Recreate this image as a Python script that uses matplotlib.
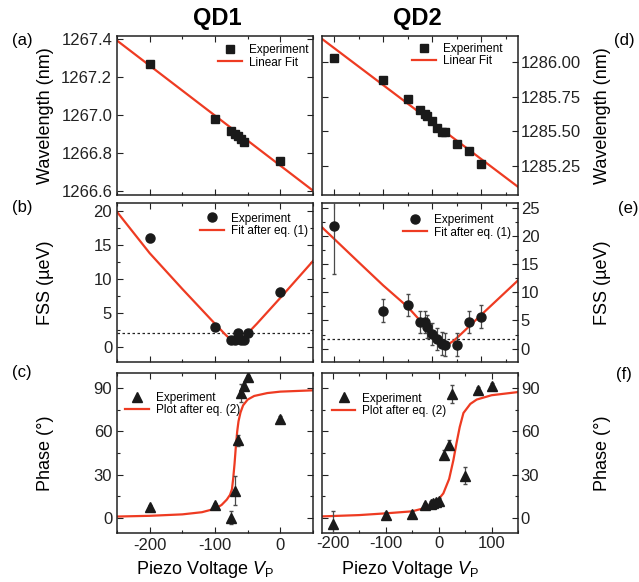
import matplotlib
matplotlib.use("Agg")
import matplotlib.pyplot as plt
from matplotlib.lines import Line2D
from matplotlib.ticker import MultipleLocator, FormatStrFormatter

plt.rcParams['font.family'] = ['Liberation Sans', 'DejaVu Sans']
plt.rcParams['mathtext.fontset'] = 'custom'
plt.rcParams['mathtext.rm'] = 'Liberation Sans'
plt.rcParams['mathtext.it'] = 'Liberation Sans:italic'
plt.rcParams['axes.unicode_minus'] = False

# ---------------- data ----------------
# QD1
qd1_wl_v = [-200, -100, -75, -70, -65, -60, -55, 0]
qd1_wl = [1267.268, 1266.979, 1266.912, 1266.900, 1266.886, 1266.872, 1266.854, 1266.754]
qd1_wlfit_v = [-250, 50]
qd1_wlfit = [1267.39, 1266.60]

qd1_fss_v = [-200, -100, -75, -70, -65, -60, -55, -50, 0]
qd1_fss = [16.0, 3.0, 1.0, 1.0, 2.0, 1.0, 1.0, 2.0, 8.0]
qd1_fss_err = [0.6, 0.3, 0.3, 0.3, 0.3, 0.3, 0.3, 0.3, 0.6]
qd1_fssfit_v = [-250, -200, -150, -100, -85, -78, -74, -71, -68, -65, -62, -58, -51, -36, 0, 50]
qd1_fssfit = [19.8, 13.75, 8.5, 3.4, 1.9, 1.25, 0.95, 0.78, 0.7, 0.78, 0.95, 1.25, 1.9, 3.4, 7.2, 12.6]
qd1_fss_level = 2.0

qd1_ph_v = [-200, -100, -75, -70, -65, -60, -55, -50, 0]
qd1_ph = [7.3, 9.2, 0.0, 18.9, 53.7, 86.5, 91.2, 97.7, 68.6]
qd1_ph_err = [1.5, 1.5, 4.5, 10.0, 4.0, 6.0, 2.0, 1.5, 2.0]
qd1_phfit_v = [-250, -200, -150, -120, -100, -90, -82, -77, -74, -72, -70, -68, -66, -64, -61, -57, -50, -40, -20, 0, 50]
qd1_phfit = [1.0, 1.5, 2.5, 4.0, 6.4, 9.0, 12.7, 16.0, 20.0, 28.0, 38.0, 50.0, 60.0, 67.0, 73.0, 78.0, 82.0, 84.5, 86.5, 87.5, 88.4]

# QD2
qd2_wl_v = [-200, -100, -50, -25, -15, -10, 0, 10, 20, 25, 50, 75, 100]
qd2_wl = [1286.030, 1285.873, 1285.731, 1285.652, 1285.628, 1285.609, 1285.575,
          1285.527, 1285.495, 1285.493, 1285.412, 1285.356, 1285.262]
qd2_wlfit_v = [-225, 175]
qd2_wlfit = [1286.169, 1285.099]

qd2_fss_v = [-200, -100, -50, -25, -15, -10, 0, 10, 20, 25, 50, 75, 100]
qd2_fss = [21.7, 6.75, 7.76, 4.7, 4.7, 3.9, 2.6, 1.7, 0.9, 0.7, 0.7, 4.7, 5.7]
qd2_fss_err = [8.4, 2.0, 2.0, 2.0, 2.0, 2.0, 2.0, 2.0, 2.0, 2.0, 2.0, 2.0, 2.0]
qd2_fssfit_v = [-225, -150, -100, -50, -25, 0, 15, 25, 30, 35, 45, 60, 100, 175]
qd2_fssfit = [21.5, 15.3, 11.2, 7.4, 5.0, 2.5, 1.3, 0.85, 0.8, 0.9, 1.5, 2.7, 6.0, 12.1]
qd2_fss_level = 1.8

qd2_ph_v = [-200, -100, -50, -25, -15, -10, -5, 0, 10, 20, 25, 50, 75, 100]
qd2_ph = [-3.9, 2.3, 3.0, 8.7, 9.9, 10.4, 10.8, 12.0, 43.8, 50.7, 85.8, 29.3, 88.4, 91.6]
qd2_ph_err = [9.0, 2.0, 2.0, 2.0, 2.0, 2.0, 2.0, 2.0, 3.0, 3.0, 6.0, 6.0, 2.0, 2.0]
qd2_phfit_v = [-220, -150, -100, -50, -25, -10, 0, 9, 20, 28, 34, 40, 47, 60, 72, 100, 150]
qd2_phfit = [1.1, 2.0, 3.2, 4.6, 7.0, 10.0, 13.0, 17.0, 27.0, 40.0, 52.0, 63.0, 72.7, 79.0, 82.0, 85.0, 87.2]

# ---------------- style ----------------
RED = '#ee3b22'
BLACK = '#1a1a1a'
ERRC = '#4a4a4a'

fig = plt.figure(figsize=(6.39, 5.82), dpi=100)
W, H = 639.0, 582.0

def add_ax(x0, x1, y0, y1):
    return fig.add_axes([x0 / W, 1 - y1 / H, (x1 - x0) / W, (y1 - y0) / H])

lx0, lx1 = 117, 313
rx0, rx1 = 322, 518
rows = [(36, 195), (203, 362), (373, 533)]

axA = add_ax(lx0, lx1, *rows[0])
axB = add_ax(lx0, lx1, *rows[1])
axC = add_ax(lx0, lx1, *rows[2])
axD = add_ax(rx0, rx1, *rows[0])
axE = add_ax(rx0, rx1, *rows[1])
axF = add_ax(rx0, rx1, *rows[2])

for ax in [axA, axB, axC, axD, axE, axF]:
    ax.tick_params(which='both', direction='in', top=True, right=True, left=True, bottom=True,
                   labelsize=12, width=0.8, colors='#222222')
    ax.tick_params(which='major', length=4)
    ax.tick_params(which='minor', length=2.5)
    for s in ax.spines.values():
        s.set_linewidth(1.1)
        s.set_color('#222222')
    ax.xaxis.set_major_locator(MultipleLocator(100))
    ax.xaxis.set_minor_locator(MultipleLocator(50))

for ax in [axA, axB, axC]:
    ax.set_xlim(-250, 50)
for ax in [axD, axE]:
    ax.set_xlim(-225, 175)
axF.set_xlim(-220, 150)

for ax in [axA, axB, axD, axE]:
    ax.tick_params(labelbottom=False)
for ax in [axD, axE, axF]:
    ax.tick_params(labelleft=False, labelright=True, pad=2)
    ax.yaxis.set_label_position('right')

leg_kw = dict(frameon=False, fontsize=8.5, handlelength=2.0, handletextpad=0.6,
              labelspacing=0.05, numpoints=1, loc='upper left', borderpad=0,
              borderaxespad=0)

def legend(ax, x, y, marker, ms, fitlabel):
    h = [Line2D([], [], ls='none', marker=marker, color=BLACK, ms=ms),
         Line2D([], [], color=RED, lw=1.6)]
    ax.legend(h, ['Experiment', fitlabel], bbox_to_anchor=(x, y), **leg_kw)

# (a) QD1 wavelength
axA.plot(qd1_wlfit_v, qd1_wlfit, color=RED, lw=1.6, zorder=2)
axA.plot(qd1_wl_v, qd1_wl, 's', color=BLACK, ms=5.5, zorder=3)
axA.set_ylim(1266.577, 1267.414)
axA.yaxis.set_major_locator(MultipleLocator(0.2))
axA.yaxis.set_major_formatter(FormatStrFormatter('%.1f'))
axA.set_ylabel('Wavelength (nm)', fontsize=13)
legend(axA, 0.515, 0.95, 's', 5.5, 'Linear Fit')

# (d) QD2 wavelength
axD.plot(qd2_wlfit_v, qd2_wlfit, color=RED, lw=1.6, zorder=2)
axD.plot(qd2_wl_v, qd2_wl, 's', color=BLACK, ms=5.5, zorder=3)
axD.set_ylim(1285.04, 1286.19)
axD.yaxis.set_major_locator(MultipleLocator(0.25))
axD.yaxis.set_major_formatter(FormatStrFormatter('%.2f'))
axD.set_ylabel('Wavelength (nm)', fontsize=13)
legend(axD, 0.459, 0.957, 's', 5.5, 'Linear Fit')

# (b) QD1 FSS
axB.axhline(qd1_fss_level, color='#222222', ls=(0, (2, 2)), lw=0.9, zorder=1)
axB.plot(qd1_fssfit_v, qd1_fssfit, color=RED, lw=1.6, zorder=2)
axB.errorbar(qd1_fss_v, qd1_fss, yerr=qd1_fss_err, fmt='o', color=BLACK, ms=6.5,
             ecolor=ERRC, elinewidth=0.9, capsize=1.5, zorder=3)
axB.set_ylim(-2.2, 21.1)
axB.yaxis.set_major_locator(MultipleLocator(5))
axB.yaxis.set_minor_locator(MultipleLocator(2.5))
axB.set_ylabel('FSS (µeV)', fontsize=13)
legend(axB, 0.423, 0.94, 'o', 6.5, 'Fit after eq. (1)')

# (e) QD2 FSS
axE.axhline(qd2_fss_level, color='#222222', ls=(0, (2, 2)), lw=0.9, zorder=1)
axE.plot(qd2_fssfit_v, qd2_fssfit, color=RED, lw=1.6, zorder=2)
axE.errorbar(qd2_fss_v, qd2_fss, yerr=qd2_fss_err, fmt='o', color=BLACK, ms=6.5,
             ecolor=ERRC, elinewidth=0.9, capsize=1.5, zorder=3)
axE.set_ylim(-2.35, 25.8)
axE.yaxis.set_major_locator(MultipleLocator(5))
axE.yaxis.set_minor_locator(MultipleLocator(2.5))
axE.set_ylabel('FSS (µeV)', fontsize=13)
legend(axE, 0.413, 0.931, 'o', 6.5, 'Fit after eq. (1)')

# (c) QD1 phase
axC.plot(qd1_phfit_v, qd1_phfit, color=RED, lw=1.6, zorder=2)
axC.errorbar(qd1_ph_v, qd1_ph, yerr=qd1_ph_err, fmt='^', color=BLACK, ms=7,
             ecolor=ERRC, elinewidth=0.9, capsize=1.5, zorder=3)
axC.set_ylim(-10.4, 100.4)
axC.yaxis.set_major_locator(MultipleLocator(30))
axC.yaxis.set_minor_locator(MultipleLocator(15))
axC.set_ylabel('Phase (°)', fontsize=13)
axC.set_xlabel(r'Piezo Voltage $V_\mathrm{P}$', fontsize=13)
legend(axC, 0.041, 0.882, '^', 7, 'Plot after eq. (2)')

# (f) QD2 phase
axF.plot(qd2_phfit_v, qd2_phfit, color=RED, lw=1.6, zorder=2)
axF.errorbar(qd2_ph_v, qd2_ph, yerr=qd2_ph_err, fmt='^', color=BLACK, ms=7,
             ecolor=ERRC, elinewidth=0.9, capsize=1.5, zorder=3)
axF.set_ylim(-10.4, 100.4)
axF.yaxis.set_major_locator(MultipleLocator(30))
axF.yaxis.set_minor_locator(MultipleLocator(15))
axF.set_ylabel('Phase (°)', fontsize=13)
axF.set_xlabel(r'Piezo Voltage $V_\mathrm{P}$', fontsize=13)
legend(axF, 0.05, 0.878, '^', 7, 'Plot after eq. (2)')

# label positions
for ax in [axA, axB, axC]:
    ax.yaxis.set_label_coords(-0.322, 0.5)
for ax in [axD, axE, axF]:
    ax.yaxis.set_label_coords(1.388, 0.5)
for ax in [axC, axF]:
    ax.xaxis.set_label_coords(0.45, -0.165)

# titles and panel letters
fig.text(217 / W, 1 - 18 / H, 'QD1', ha='center', va='center', fontsize=17, fontweight='bold')
fig.text(417 / W, 1 - 18 / H, 'QD2', ha='center', va='center', fontsize=17, fontweight='bold')
for txt, x, y in [('(a)', 22, 41), ('(b)', 22, 207), ('(c)', 22, 373),
                  ('(d)', 624, 41), ('(e)', 628, 208), ('(f)', 624, 375)]:
    fig.text(x / W, 1 - y / H, txt, ha='center', va='center', fontsize=12)

fig.savefig('out.png', dpi=100)
